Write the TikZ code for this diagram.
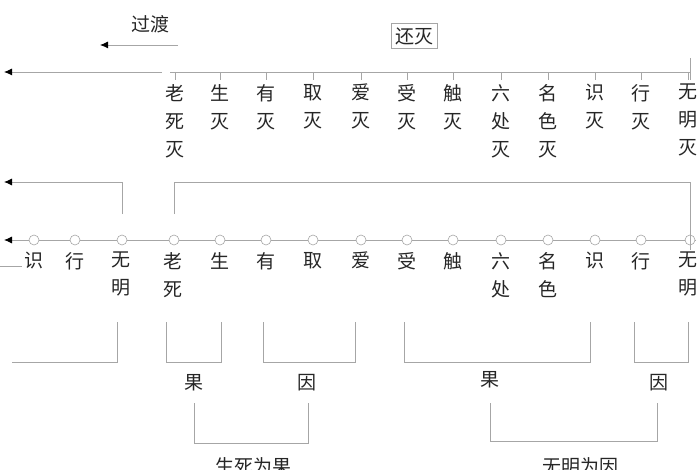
\documentclass[tikz,border=0pt]{standalone}
\usepackage{fontspec}
\usetikzlibrary{arrows.meta}
\newfontfamily\cjk{Noto Sans CJK SC}
\begin{document}
\begin{tikzpicture}[x=1pt,y=-1pt,
  ln/.style={draw=gray!70,line width=0.9pt},
  tip/.style={-{Latex[length=8pt,width=7pt,fill=black,color=black]}},
  lab/.style={font=\cjk\fontsize{19}{28}\selectfont,text=black!85,align=center,inner sep=0pt,anchor=north},
  dot/.style={circle,draw=gray!70,line width=0.6pt,minimum size=10pt,inner sep=0pt}]
\useasboundingbox (0,0) rectangle (700,470);
\node[lab,anchor=center] (guodu) at (150,24) {过渡};
\coordinate (ga) at (178,45); \coordinate (gb) at (100,45);
\draw[ln,tip] (ga) -- (gb);
\node[lab,anchor=center,draw=gray!70,line width=0.8pt,inner sep=4pt] (huanmie) at (414,36) {还灭};
% top line
\coordinate (t0) at (162,72); \coordinate (tl) at (4,72);
\draw[ln,tip] (t0) -- (tl);
\coordinate (t1) at (170,72); \coordinate (t2) at (690,72);
\draw[ln] (t1) -- (t2);
\coordinate (t3) at (690,58); \coordinate (t4) at (690,80);
\draw[ln] (t3) -- (t4);
\foreach \x/\t in {175/老\\死\\灭,220/生\\灭,266/有\\灭,313/取\\灭,361/爱\\灭,407/受\\灭,453/触\\灭,501/六\\处\\灭,548/名\\色\\灭,595/识\\灭,641/行\\灭,688/无\\明\\灭}{
  \draw[ln] (\x,72) -- (\x,80);
  \node[lab] at (\x,84) {\t};
}
% second level
\coordinate (s1) at (122,214); \coordinate (s2) at (122,182); \coordinate (s3) at (4,182);
\draw[ln,tip] (s1) -- (s2) -- (s3);
\coordinate (b1) at (174,214); \coordinate (b2) at (174,182); \coordinate (b3) at (690,182); \coordinate (b4) at (690,236);
\draw[ln] (b1) -- (b2) -- (b3) -- (b4);
% axis
\coordinate (a1) at (696,240); \coordinate (a2) at (4,240);
\draw[ln,tip] (a1) -- (a2);
\foreach \x in {34,75,122,174,220,266,313,361,407,453,501,548,595,641,690}
  \node[dot,fill=white] at (\x,240) {};
\draw[ln] (690,230) -- (690,250);
\coordinate (d1) at (0,266); \coordinate (d2) at (22,266);
\draw[ln] (d1) -- (d2);
\foreach \x/\t in {34/识,75/行,121/无\\明,173/老\\死,220/生,266/有,313/取,361/爱,407/受,453/触,501/六\\处,548/名\\色,595/识,641/行,688/无\\明}
  \node[lab] at (\x,252) {\t};
% brackets
\draw[ln] (12,362) -- (117,362) -- (117,322);
\draw[ln] (166,322) -- (166,362) -- (221,362) -- (221,322);
\draw[ln] (263,322) -- (263,362) -- (355,362) -- (355,322);
\draw[ln] (404,322) -- (404,362) -- (590,362) -- (590,322);
\draw[ln] (634,322) -- (634,362) -- (688,362) -- (688,322);
\node[lab,anchor=center] (g1) at (194,383) {果};
\node[lab,anchor=center] (y1) at (307,383) {因};
\node[lab,anchor=center] (g2) at (490,380) {果};
\node[lab,anchor=center] (y2) at (659,383) {因};
\draw[ln] (194,403) -- (194,443) -- (308,443) -- (308,403);
\draw[ln] (490,403) -- (490,441) -- (657,441) -- (657,403);
\node[lab,anchor=center] (sg) at (253,466) {生死为果};
\node[lab,anchor=center] (wy) at (580,466) {无明为因};
\end{tikzpicture}
\end{document}
